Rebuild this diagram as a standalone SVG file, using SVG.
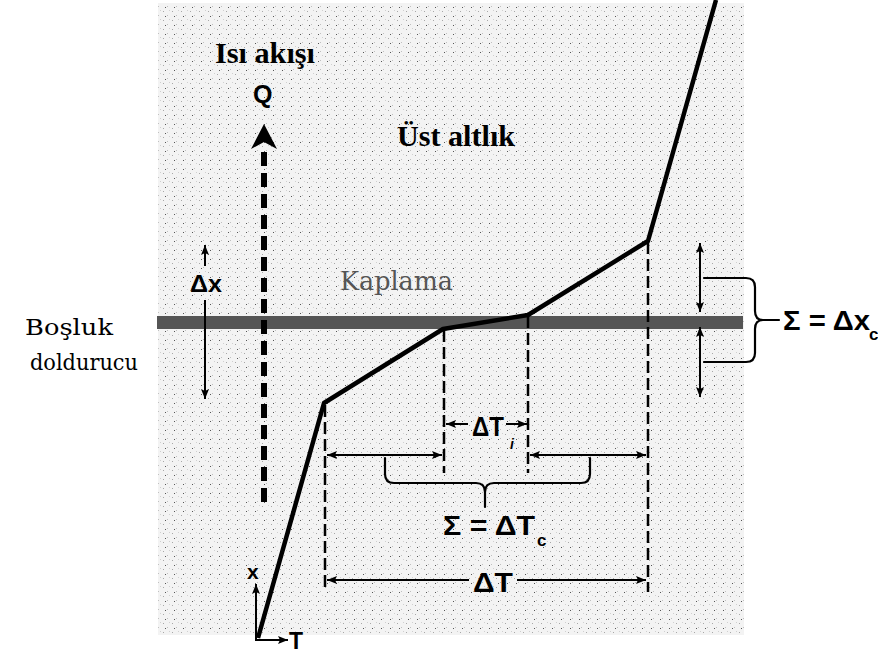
<svg xmlns="http://www.w3.org/2000/svg" width="878" height="655" viewBox="0 0 878 655">
<defs>
<pattern id="stip" width="9" height="9" patternUnits="userSpaceOnUse">
<rect width="9" height="9" fill="#f3f3f3"/>
<rect x="1" y="2" width="1" height="1" fill="#a8a8a8"/>
<rect x="5" y="6" width="1" height="1" fill="#c0c0c0"/>
<rect x="7" y="1" width="1" height="1" fill="#d0d0d0"/>
<rect x="3" y="7" width="1" height="1" fill="#555"/>
</pattern>
<marker id="ah" viewBox="0 0 10 8" refX="10" refY="4" markerWidth="10" markerHeight="8" markerUnits="userSpaceOnUse" orient="auto-start-reverse">
<path d="M0,0 L10,4 L0,8 L2,4 z" fill="#000"/>
</marker>
</defs>
<style>
.dim{stroke:#000;stroke-width:2;fill:none}
.dash{stroke:#000;stroke-width:2.5;fill:none;stroke-dasharray:12 5}
.brace{stroke:#000;stroke-width:2.2;fill:none;stroke-linecap:round}
.lbl{font-family:"DejaVu Serif","Liberation Serif",serif;fill:#000}
.bold{font-family:"Liberation Serif","DejaVu Serif",serif;font-weight:bold;fill:#000}
.sym{font-family:"Liberation Sans","DejaVu Sans",sans-serif;font-weight:bold;fill:#000}
</style>
<rect x="158" y="3" width="586" height="632" fill="url(#stip)"/>
<g id="coating">
<rect x="157" y="316" width="586" height="13" fill="#555"/>
<text class="lbl" x="340" y="290" font-size="26" style="fill:#555" textLength="113" lengthAdjust="spacingAndGlyphs">Kaplama</text>
</g>
<g id="labels">
<text class="bold" x="215" y="63" font-size="29" textLength="100" lengthAdjust="spacingAndGlyphs">Isı akışı</text>
<text class="sym" x="253" y="103" font-size="25">Q</text>
<text class="bold" x="397" y="146" font-size="29" textLength="118" lengthAdjust="spacingAndGlyphs">Üst altlık</text>
<text class="lbl" x="25" y="335" font-size="23" textLength="88" lengthAdjust="spacingAndGlyphs">Boşluk</text>
<text class="lbl" x="30" y="370" font-size="23" textLength="108" lengthAdjust="spacingAndGlyphs">doldurucu</text>
</g>
<g id="heat-flow">
<line x1="264" y1="502" x2="264" y2="146" stroke="#000" stroke-width="6" stroke-dasharray="14 7"/>
<polygon points="264,124 277,149 264,142 251,149" fill="#000"/>
</g>
<g id="temperature-profile">
<polyline points="258,638 324,403 443,329 528,315 648,241 716,0" fill="none" stroke="#000" stroke-width="4.5" stroke-linejoin="round"/>
</g>
<g id="connectors">
<line class="dash" x1="325" y1="405" x2="325" y2="592"/>
<line class="dash" x1="444" y1="330" x2="444" y2="473"/>
<line class="dash" x1="528" y1="316" x2="528" y2="473"/>
<line class="dash" x1="648" y1="242" x2="648" y2="592"/>
<line class="dim" x1="205" y1="266" x2="205" y2="245" marker-end="url(#ah)"/>
<line class="dim" x1="205" y1="300" x2="205" y2="399" marker-end="url(#ah)"/>
<line class="dim" x1="700" y1="243" x2="700" y2="312" marker-start="url(#ah)" marker-end="url(#ah)"/>
<line class="dim" x1="700" y1="327" x2="700" y2="397" marker-start="url(#ah)" marker-end="url(#ah)"/>
<line class="dim" x1="468" y1="424" x2="446" y2="424" marker-end="url(#ah)"/>
<line class="dim" x1="506" y1="424" x2="527" y2="424" marker-end="url(#ah)"/>
<line class="dim" x1="327" y1="455" x2="442" y2="455" marker-start="url(#ah)" marker-end="url(#ah)"/>
<line class="dim" x1="530" y1="455" x2="646" y2="455" marker-start="url(#ah)" marker-end="url(#ah)"/>
<line class="dim" x1="469" y1="580" x2="327" y2="580" marker-end="url(#ah)"/>
<line class="dim" x1="517" y1="580" x2="646" y2="580" marker-end="url(#ah)"/>
<path class="brace" d="M385,458 L385,474 Q385,483 394,483 L476,483 Q485,483 485,492 L485,507 M485,492 Q485,483 494,483 L581,483 Q590,483 590,474 L590,458"/>
<path class="brace" d="M704,278 L746,278 Q755,278 755,287 L755,311 Q755,320 763,320 L779,320 M763,320 Q755,320 755,329 L755,353 Q755,362 746,362 L704,362"/>
<line class="dim" x1="256" y1="640" x2="256" y2="584" marker-end="url(#ah)"/>
<line class="dim" x1="255" y1="640" x2="288" y2="640" marker-end="url(#ah)"/>
</g>
<g id="dim-labels">
<text class="sym" x="190" y="292" font-size="24" textLength="32" lengthAdjust="spacingAndGlyphs">Δx</text>
<text class="sym" x="472" y="436" font-size="28" textLength="32" lengthAdjust="spacingAndGlyphs">ΔT</text>
<text class="sym" x="510" y="449" font-size="14" font-style="italic" font-weight="normal">i</text>
<text class="sym" x="443" y="535" font-size="28" textLength="92" lengthAdjust="spacingAndGlyphs">Σ = ΔT</text>
<text class="sym" x="537" y="546" font-size="17" font-weight="normal">c</text>
<text class="sym" x="473" y="592" font-size="28" textLength="40" lengthAdjust="spacingAndGlyphs">ΔT</text>
<text class="sym" x="783" y="330" font-size="28" textLength="87" lengthAdjust="spacingAndGlyphs">Σ = Δx</text>
<text class="sym" x="869" y="340" font-size="17" font-weight="normal">c</text>
<text class="sym" x="247" y="579" font-size="21">x</text>
<text class="sym" x="289" y="649" font-size="23">T</text>
</g>
</svg>
